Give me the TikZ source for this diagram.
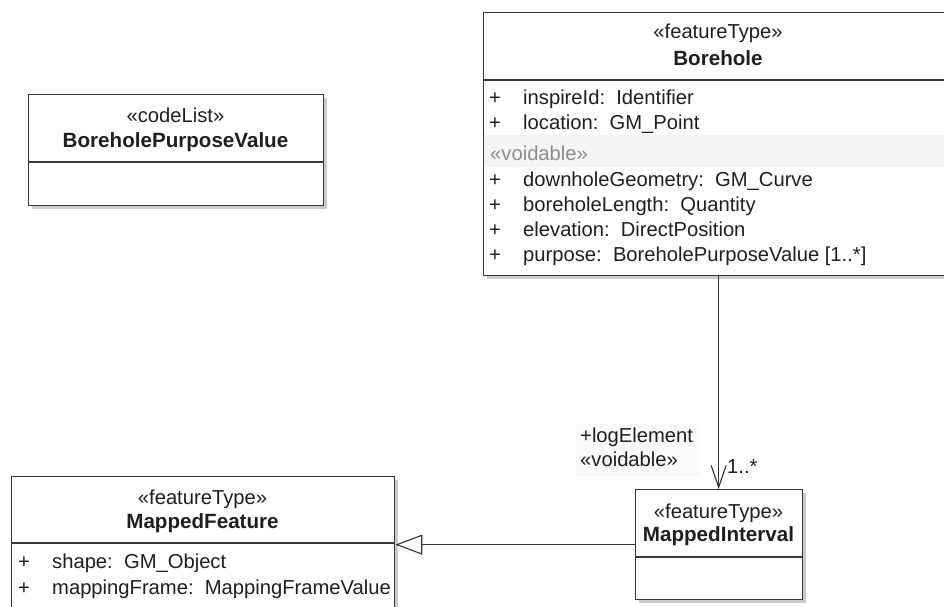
\documentclass[tikz,border=0pt]{standalone}
\usepackage{fontspec}
\setmainfont{Liberation Sans}
\usetikzlibrary{arrows.meta,shadows}

\tikzset{
  classbox/.style={rectangle, draw=black!78, line width=1.3pt, fill=white,
    inner sep=0pt, anchor=north west,
    drop shadow={shadow xshift=3pt, shadow yshift=-3pt, fill=black!45, opacity=.45}},
  divider/.style={draw=black!78, line width=1.3pt},
  txt/.style={inner sep=0pt, text height=14pt, text depth=4pt, font=\fontsize{20.2}{24}\selectfont, text=black!88},
  stereo/.style={txt},
  cname/.style={txt, font=\fontsize{20.6}{24}\selectfont\bfseries},
  attr/.style={txt, anchor=west},
  conn/.style={draw=black!80, line width=1.1pt},
}

\begin{document}
\begin{tikzpicture}[x=1pt,y=-1pt]
  \clip (0,0) rectangle (944,606);
  \fill[white] (0,0) rectangle (944,606);

  % ---- BoreholePurposeValue
  \node[classbox, minimum width=295pt, minimum height=111pt] (bpv) at (28,94) {};
  \draw[divider] (28,162) -- (323,162);
  \node[stereo] (bpvS) at (175.5,117) {«codeList»};
  \node[cname]  (bpvN) at (175.5,142) {BoreholePurposeValue};

  % ---- Borehole
  \node[classbox, minimum width=470pt, minimum height=263pt] (bh) at (483,12) {};
  \draw[divider] (483,80) -- (953,80);
  \fill[black!4] (484,135) rectangle (952,167);
  \node[stereo] (bhS) at (718,33) {«featureType»};
  \node[cname]  (bhN) at (718,60) {Borehole};
  \foreach \y/\n/\t in {99/a1/{inspireId:\ \ Identifier},
                        124/a2/{location:\ \ GM\_Point},
                        181/a3/{downholeGeometry:\ \ GM\_Curve},
                        206/a4/{boreholeLength:\ \ Quantity},
                        231/a5/{elevation:\ \ DirectPosition},
                        256/a6/{purpose:\ \ BoreholePurposeValue [1..*]}}{
    \node[attr] (bh\n p) at (489,\y) {+};
    \node[attr] (bh\n) at (523,\y) {\t};
  }
  \node[attr, text=black!45] (bhV) at (490,155) {«voidable»};

  % ---- MappedInterval
  \node[classbox, minimum width=167pt, minimum height=110pt] (mi) at (635,489) {};
  \draw[divider] (635,557) -- (802,557);
  \node[stereo] (miS) at (718.5,513) {«featureType»};
  \node[cname]  (miN) at (718.5,536) {MappedInterval};

  % ---- MappedFeature
  \node[classbox, minimum width=383pt, minimum height=136pt] (mf) at (11,476) {};
  \draw[divider] (11,543) -- (394,543);
  \node[stereo] (mfS) at (202.5,499) {«featureType»};
  \node[cname]  (mfN) at (202.5,523) {MappedFeature};
  \node[attr] (mf1p) at (18,563) {+};
  \node[attr] (mf1)  at (52,563) {shape:\ \ GM\_Object};
  \node[attr] (mf2p) at (18,589) {+};
  \node[attr] (mf2)  at (52,589) {mappingFrame:\ \ MappingFrameValue};

  % ---- association Borehole -> MappedInterval
  \fill[black!2.5] (576,424) rectangle (700,476);
  \draw[conn, -{Straight Barb[length=22pt, width=15pt, line width=1.1pt]}]
    (bh.south) -- (bh.south |- mi.north);
  \node[attr] (role) at (580,437) {+logElement};
  \node[attr] (roleV) at (580,461) {«voidable»};
  \node[attr] (mult) at (727,468) {1..*};

  % ---- generalization MappedInterval -> MappedFeature
  \draw[conn, -{Triangle[open, length=27pt, width=20pt, line width=1.1pt]}]
    (mi.west) -- (mf.east);
\end{tikzpicture}
\end{document}
